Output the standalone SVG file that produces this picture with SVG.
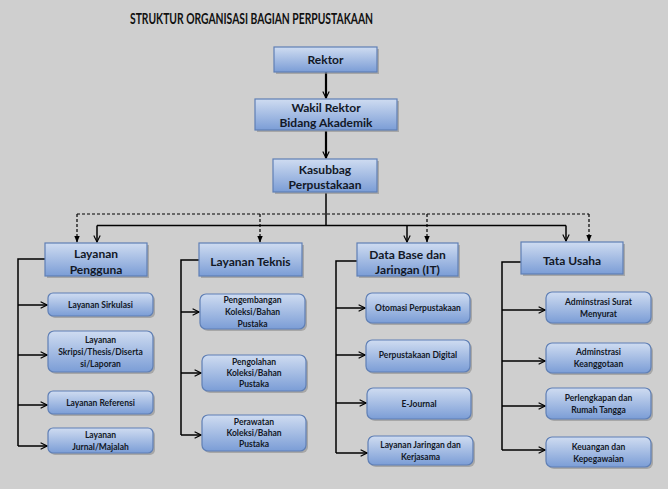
<svg xmlns="http://www.w3.org/2000/svg" width="668" height="489" viewBox="0 0 668 489">
<defs>
<linearGradient id="g" x1="0" y1="0" x2="0" y2="1">
<stop offset="0" stop-color="#cfdcf1"/>
<stop offset="1" stop-color="#7b9dd6"/>
</linearGradient>
<marker id="open" viewBox="0 0 10 10" refX="9" refY="5" markerWidth="8" markerHeight="8" markerUnits="userSpaceOnUse" orient="auto">
<path d="M1,1 L9,5 L1,9" fill="none" stroke="#000" stroke-width="1.4"/>
</marker>
<marker id="tri" viewBox="0 0 10 10" refX="9" refY="5" markerWidth="7" markerHeight="7" markerUnits="userSpaceOnUse" orient="auto">
<path d="M0,1 L10,5 L0,9 Z" fill="#000"/>
</marker>
</defs>
<style>
.bg{fill:#cfcfcf}
.big{fill:url(#g);stroke:#5f7fb5;stroke-width:1.2}
.sm{fill:url(#g);stroke:#5f7fb5;stroke-width:1.2}
.sh{fill:#8c8c8c;opacity:0.6}
.t{font-family:Lato,"Open Sans","Liberation Sans",sans-serif;font-weight:bold;fill:#121826;text-anchor:middle}
.tb{font-size:12px}
.ts{font-size:8.5px}
.title{font-family:Lato,"Open Sans","Liberation Sans",sans-serif;font-weight:bold;font-size:16px;fill:#111}
.ln{fill:none;stroke:#000;stroke-width:1.5}
.thick{fill:none;stroke:#000;stroke-width:2.2}
.dash{fill:none;stroke:#000;stroke-width:1.2;stroke-dasharray:3,2}
</style>
<rect class="bg" x="0" y="0" width="668" height="489"/>
<text class="title" x="130" y="24" textLength="243" lengthAdjust="spacingAndGlyphs">STRUKTUR ORGANISASI BAGIAN PERPUSTAKAAN</text>

<g id="connectors">
<line class="thick" x1="326" y1="72" x2="326" y2="98" marker-end="url(#open)"/>
<line class="thick" x1="326" y1="131" x2="326" y2="158" marker-end="url(#open)"/>
<line class="ln" x1="326" y1="193" x2="326" y2="225.5"/>
<line class="ln" x1="97" y1="225.5" x2="566" y2="225.5"/>
<line class="ln" x1="97" y1="225.5" x2="97" y2="242" marker-end="url(#open)"/>
<line class="ln" x1="407" y1="225.5" x2="407" y2="242" marker-end="url(#open)"/>
<line class="ln" x1="566" y1="225.5" x2="566" y2="241" marker-end="url(#open)"/>
<line class="dash" x1="77" y1="214" x2="589" y2="214"/>
<line class="dash" x1="77" y1="214" x2="77" y2="242" marker-end="url(#tri)"/>
<line class="dash" x1="260" y1="214" x2="260" y2="242" marker-end="url(#tri)"/>
<line class="dash" x1="427" y1="214" x2="427" y2="242" marker-end="url(#tri)"/>
<line class="dash" x1="589" y1="214" x2="589" y2="241" marker-end="url(#tri)"/>
<path class="ln" d="M45,259 H18 V446"/>
<line class="ln" x1="18" y1="305" x2="47" y2="305" marker-end="url(#open)"/>
<line class="ln" x1="18" y1="355" x2="47" y2="355" marker-end="url(#open)"/>
<line class="ln" x1="18" y1="405" x2="47" y2="405" marker-end="url(#open)"/>
<line class="ln" x1="18" y1="446" x2="47" y2="446" marker-end="url(#open)"/>
<path class="ln" d="M199,260 H181 V435"/>
<line class="ln" x1="181" y1="312" x2="199" y2="312" marker-end="url(#open)"/>
<line class="ln" x1="181" y1="373" x2="201" y2="373" marker-end="url(#open)"/>
<line class="ln" x1="181" y1="435" x2="201" y2="435" marker-end="url(#open)"/>
<path class="ln" d="M357,261 H336 V453"/>
<line class="ln" x1="336" y1="308" x2="365" y2="308" marker-end="url(#open)"/>
<line class="ln" x1="336" y1="355" x2="365" y2="355" marker-end="url(#open)"/>
<line class="ln" x1="336" y1="403" x2="366" y2="403" marker-end="url(#open)"/>
<line class="ln" x1="336" y1="453" x2="367" y2="453" marker-end="url(#open)"/>
<path class="ln" d="M521,262 H502 V450"/>
<line class="ln" x1="502" y1="310" x2="545" y2="310" marker-end="url(#open)"/>
<line class="ln" x1="502" y1="361" x2="545" y2="361" marker-end="url(#open)"/>
<line class="ln" x1="502" y1="406" x2="545" y2="406" marker-end="url(#open)"/>
<line class="ln" x1="502" y1="450" x2="545" y2="450" marker-end="url(#open)"/>
</g>

<g id="rektor"><rect class="sh" x="276" y="49" width="103" height="25"/><rect class="big" x="274" y="47" width="103" height="25"/><text class="t tb" x="325.5" y="64">Rektor</text></g>
<g id="wakil-rektor"><rect class="sh" x="257" y="101" width="142" height="31"/><rect class="big" x="255" y="99" width="142" height="31"/><text class="t tb" x="326" y="112">Wakil Rektor</text><text class="t tb" x="326" y="127">Bidang Akademik</text></g>
<g id="kasubbag"><rect class="sh" x="275" y="161" width="104" height="33"/><rect class="big" x="273" y="159" width="104" height="33"/><text class="t tb" x="325" y="174">Kasubbag</text><text class="t tb" x="325" y="189">Perpustakaan</text></g>

<g id="layanan-pengguna"><rect class="sh" x="47" y="245" width="102" height="33"/><rect class="big" x="45" y="243" width="102" height="33"/><text class="t tb" x="96" y="258">Layanan</text><text class="t tb" x="96" y="274">Pengguna</text></g>
<g id="layanan-teknis"><rect class="sh" x="201" y="245" width="103" height="33"/><rect class="big" x="199" y="243" width="103" height="33"/><text class="t tb" x="250.5" y="266">Layanan Teknis</text></g>
<g id="data-base"><rect class="sh" x="359" y="245" width="101" height="33"/><rect class="big" x="357" y="243" width="101" height="33"/><text class="t tb" x="407.5" y="259">Data Base dan</text><text class="t tb" x="407.5" y="274">Jaringan (IT)</text></g>
<g id="tata-usaha"><rect class="sh" x="523" y="244" width="102" height="32"/><rect class="big" x="521" y="242" width="102" height="32"/><text class="t tb" x="572" y="265">Tata Usaha</text></g>

<g id="layanan-sirkulasi"><rect class="sh" x="50" y="295" width="105" height="23" rx="5"/><rect class="sm" x="48" y="293" width="105" height="23" rx="5"/><text class="t ts" x="100.5" y="308">Layanan Sirkulasi</text></g>
<g id="layanan-skripsi"><rect class="sh" x="50" y="333" width="105" height="41" rx="6"/><rect class="sm" x="48" y="331" width="105" height="41" rx="6"/><text class="t ts" x="100.5" y="343">Layanan</text><text class="t ts" x="100.5" y="355">Skripsi/Thesis/Diserta</text><text class="t ts" x="100.5" y="367">si/Laporan</text></g>
<g id="layanan-referensi"><rect class="sh" x="50" y="393" width="105" height="23" rx="5"/><rect class="sm" x="48" y="391" width="105" height="23" rx="5"/><text class="t ts" x="100.5" y="406">Layanan Referensi</text></g>
<g id="layanan-jurnal"><rect class="sh" x="50" y="430" width="105" height="25" rx="5"/><rect class="sm" x="48" y="428" width="105" height="25" rx="5"/><text class="t ts" x="100.5" y="438">Layanan</text><text class="t ts" x="100.5" y="450">Jurnal/Majalah</text></g>

<g id="pengembangan"><rect class="sh" x="202" y="296" width="105" height="35" rx="6"/><rect class="sm" x="200" y="294" width="105" height="35" rx="6"/><text class="t ts" x="252.5" y="303">Pengembangan</text><text class="t ts" x="252.5" y="315">Koleksi/Bahan</text><text class="t ts" x="252.5" y="327">Pustaka</text></g>
<g id="pengolahan"><rect class="sh" x="204" y="357" width="104" height="36" rx="6"/><rect class="sm" x="202" y="355" width="104" height="36" rx="6"/><text class="t ts" x="254" y="365">Pengolahan</text><text class="t ts" x="254" y="376">Koleksi/Bahan</text><text class="t ts" x="254" y="387">Pustaka</text></g>
<g id="perawatan"><rect class="sh" x="204" y="417" width="104" height="36" rx="6"/><rect class="sm" x="202" y="415" width="104" height="36" rx="6"/><text class="t ts" x="254" y="425">Perawatan</text><text class="t ts" x="254" y="436">Koleksi/Bahan</text><text class="t ts" x="254" y="447">Pustaka</text></g>

<g id="otomasi"><rect class="sh" x="368" y="295" width="104" height="30" rx="6"/><rect class="sm" x="366" y="293" width="104" height="30" rx="6"/><text class="t ts" x="418" y="311">Otomasi Perpustakaan</text></g>
<g id="perpustakaan-digital"><rect class="sh" x="368" y="342" width="104" height="32" rx="6"/><rect class="sm" x="366" y="340" width="104" height="32" rx="6"/><text class="t ts" x="418" y="358">Perpustakaan Digital</text></g>
<g id="e-journal"><rect class="sh" x="369" y="390" width="104" height="31" rx="6"/><rect class="sm" x="367" y="388" width="104" height="31" rx="6"/><text class="t ts" x="419" y="407">E-Journal</text></g>
<g id="layanan-jaringan"><rect class="sh" x="370" y="438" width="105" height="29" rx="6"/><rect class="sm" x="368" y="436" width="105" height="29" rx="6"/><text class="t ts" x="420.5" y="448">Layanan Jaringan dan</text><text class="t ts" x="420.5" y="460">Kerjasama</text></g>

<g id="adm-surat"><rect class="sh" x="548" y="294" width="105" height="31" rx="6"/><rect class="sm" x="546" y="292" width="105" height="31" rx="6"/><text class="t ts" x="598.5" y="305">Adminstrasi Surat</text><text class="t ts" x="598.5" y="317">Menyurat</text></g>
<g id="adm-keanggotaan"><rect class="sh" x="548" y="345" width="105" height="30" rx="6"/><rect class="sm" x="546" y="343" width="105" height="30" rx="6"/><text class="t ts" x="598.5" y="355">Adminstrasi</text><text class="t ts" x="598.5" y="367">Keanggotaan</text></g>
<g id="perlengkapan"><rect class="sh" x="548" y="390" width="105" height="31" rx="6"/><rect class="sm" x="546" y="388" width="105" height="31" rx="6"/><text class="t ts" x="598.5" y="401">Perlengkapan dan</text><text class="t ts" x="598.5" y="413">Rumah Tangga</text></g>
<g id="keuangan"><rect class="sh" x="548" y="439" width="105" height="30" rx="6"/><rect class="sm" x="546" y="437" width="105" height="30" rx="6"/><text class="t ts" x="598.5" y="450">Keuangan dan</text><text class="t ts" x="598.5" y="462">Kepegawaian</text></g>
</svg>
